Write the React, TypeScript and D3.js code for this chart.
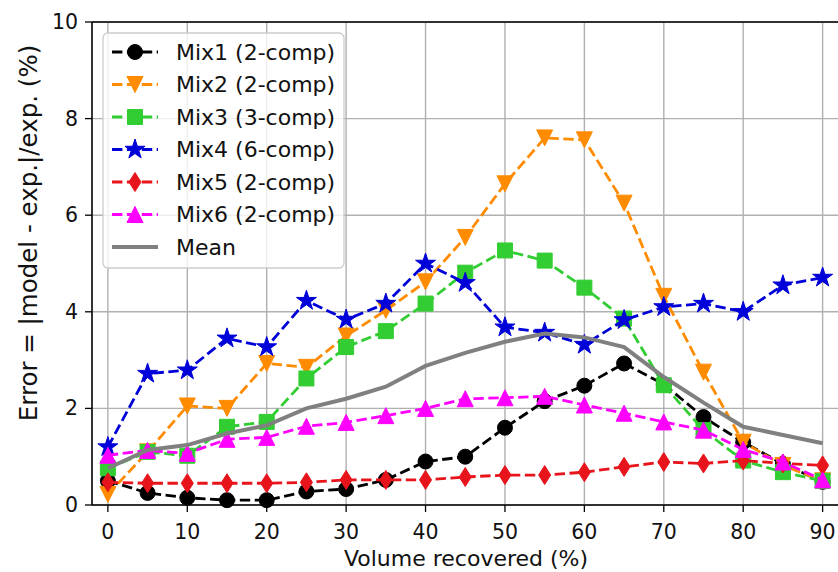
import * as d3 from "d3";

// volume recovered (%)
const volume = [0, 5, 10, 15, 20, 25, 30, 35, 40, 45, 50, 55, 60, 65, 70, 75, 80, 85, 90];

const mix1 = [0.5, 0.25, 0.15, 0.1, 0.1, 0.28, 0.33, 0.52, 0.9, 1.0, 1.6, 2.15, 2.47, 2.93, 2.5, 1.82, 1.3, 0.85, 0.48];
const mix2 = [0.22, 1.1, 2.05, 2.0, 2.93, 2.85, 3.5, 4.03, 4.62, 5.54, 6.65, 7.6, 7.56, 6.25, 4.32, 2.75, 1.3, 0.82, 0.5];
const mix3 = [0.76, 1.1, 1.02, 1.62, 1.72, 2.62, 3.27, 3.6, 4.17, 4.81, 5.27, 5.06, 4.5, 3.86, 2.48, 1.55, 0.92, 0.68, 0.5];
const mix4 = [1.2, 2.72, 2.79, 3.45, 3.27, 4.23, 3.84, 4.17, 5.0, 4.6, 3.68, 3.57, 3.32, 3.83, 4.1, 4.17, 4.0, 4.55, 4.71];
const mix5 = [0.47, 0.45, 0.45, 0.45, 0.45, 0.47, 0.52, 0.52, 0.52, 0.58, 0.62, 0.62, 0.68, 0.79, 0.89, 0.86, 0.92, 0.86, 0.82];
const mix6 = [1.03, 1.13, 1.07, 1.36, 1.4, 1.63, 1.71, 1.85, 2.0, 2.2, 2.22, 2.25, 2.07, 1.9, 1.72, 1.55, 1.15, 0.89, 0.52];
const mean = [0.76, 1.14, 1.24, 1.48, 1.65, 2.0, 2.2, 2.45, 2.88, 3.15, 3.38, 3.55, 3.47, 3.27, 2.65, 2.12, 1.62, 1.45, 1.28];

const xTicks = [0, 10, 20, 30, 40, 50, 60, 70, 80, 90];
const yTicks = [0, 2, 4, 6, 8, 10];

type Marker = "circle" | "triDown" | "square" | "star" | "diamond" | "triUp" | "none";

const series: { name: string; values: number[]; color: string; marker: Marker; dashed: boolean }[] = [
  { name: "Mix1 (2-comp)", values: mix1, color: "#000000", marker: "circle", dashed: true },
  { name: "Mix2 (2-comp)", values: mix2, color: "#ff8c00", marker: "triDown", dashed: true },
  { name: "Mix3 (3-comp)", values: mix3, color: "#32cd32", marker: "square", dashed: true },
  { name: "Mix4 (6-comp)", values: mix4, color: "#0000d8", marker: "star", dashed: true },
  { name: "Mix5 (2-comp)", values: mix5, color: "#e8141c", marker: "diamond", dashed: true },
  { name: "Mix6 (2-comp)", values: mix6, color: "#ff00ff", marker: "triUp", dashed: true },
  { name: "Mean", values: mean, color: "#808080", marker: "none", dashed: false },
];

const FONT = "DejaVu Sans, sans-serif";

function markerPath(kind: Marker): string {
  if (kind === "circle") return d3.symbol(d3.symbolCircle, Math.PI * 7.5 * 7.5)() as string;
  if (kind === "square") return "M-7.5,-7.5L7.5,-7.5L7.5,7.5L-7.5,7.5Z";
  if (kind === "triDown") return "M0,8L-8,-8L8,-8Z";
  if (kind === "triUp") return "M0,-8L-8,8L8,8Z";
  if (kind === "diamond") return "M0,-9.5L6,0L0,9.5L-6,0Z";
  if (kind === "star") {
    const pts: string[] = [];
    const R = 10.5;
    const r = R * 0.381966;
    for (let i = 0; i < 10; i++) {
      const rad = i % 2 === 0 ? R : r;
      const a = -Math.PI / 2 + (i * Math.PI) / 5;
      pts.push(`${(rad * Math.cos(a)).toFixed(2)},${(rad * Math.sin(a)).toFixed(2)}`);
    }
    return "M" + pts.join("L") + "Z";
  }
  return "";
}

export default function App() {
  const width = 838;
  const height = 572;

  const x = d3.scaleLinear().domain([-2, 92]).range([92, 838.5]);
  const y = d3.scaleLinear().domain([0, 10]).range([505, 22]);

  const line = d3
    .line<number>()
    .x((_, i) => x(volume[i]))
    .y((d) => y(d));

  // legend placement
  const legX = 103;
  const legY = 33;
  const rowH = 32.5;

  return (
    <svg width={width} height={height} style={{ position: "absolute", left: 0, top: 0, background: "#fff" }}>
      <rect x={0} y={0} width={width} height={height} fill="#fff" />

      {/* grid */}
      <g stroke="#b0b0b0" strokeWidth={1.4}>
        {xTicks.map((t) => (
          <line key={"gx" + t} x1={x(t)} x2={x(t)} y1={y(10)} y2={y(0)} />
        ))}
        {yTicks.map((t) => (
          <line key={"gy" + t} x1={92} x2={838} y1={y(t)} y2={y(t)} />
        ))}
      </g>

      {/* series */}
      {series.map((s) => (
        <g key={s.name}>
          <path
            d={line(s.values) as string}
            fill="none"
            stroke={s.color}
            strokeWidth={s.dashed ? 2.8 : 4}
            strokeDasharray={s.dashed ? "10.4,4.5" : undefined}
          />
          {s.marker !== "none" &&
            s.values.map((v, i) => (
              <path
                key={i}
                d={markerPath(s.marker)}
                transform={`translate(${x(volume[i])},${y(v)})`}
                fill={s.color}
                stroke={s.color}
                strokeWidth={1}
              />
            ))}
        </g>
      ))}

      {/* axes spines */}
      <g stroke="#000" strokeWidth={1.6} fill="none">
        <line x1={92} x2={92} y1={y(10)} y2={y(0)} />
        <line x1={92} x2={840} y1={y(0)} y2={y(0)} />
        <line x1={92} x2={840} y1={y(10)} y2={y(10)} />
      </g>

      {/* ticks */}
      <g stroke="#000" strokeWidth={1.3}>
        {xTicks.map((t) => (
          <line key={"tx" + t} x1={x(t)} x2={x(t)} y1={y(0)} y2={y(0) + 7} />
        ))}
        {yTicks.map((t) => (
          <line key={"ty" + t} x1={85} x2={92} y1={y(t)} y2={y(t)} />
        ))}
      </g>
      <g fontFamily={FONT} fontSize={20.5} fill="#111">
        {xTicks.map((t) => (
          <text key={"lx" + t} x={x(t)} y={532} textAnchor="middle" dominantBaseline="central">
            {t}
          </text>
        ))}
        {yTicks.map((t) => (
          <text key={"ly" + t} x={78} y={y(t)} textAnchor="end" dominantBaseline="central">
            {t}
          </text>
        ))}
      </g>

      {/* axis labels */}
      <text x={466} y={558} textAnchor="middle" dominantBaseline="central" fontFamily={FONT} fontSize={22} fill="#111">
        Volume recovered (%)
      </text>
      <text
        transform={`translate(28,233) rotate(-90)`}
        textAnchor="middle"
        dominantBaseline="central"
        fontFamily={FONT}
        fontSize={24.5}
        fill="#111"
      >
        Error = |model - exp.|/exp. (%)
      </text>

      {/* legend */}
      <g>
        <rect
          x={legX}
          y={legY}
          width={241}
          height={235}
          rx={5}
          fill="#fff"
          fillOpacity={0.8}
          stroke="#cccccc"
          strokeWidth={1.3}
        />
        {series.map((s, i) => {
          const cy = legY + 19 + i * rowH;
          return (
            <g key={"leg" + s.name}>
              <line
                x1={112}
                x2={158}
                y1={cy}
                y2={cy}
                stroke={s.color}
                strokeWidth={s.dashed ? 2.8 : 4}
                strokeDasharray={s.dashed ? "10.4,4.5" : undefined}
              />
              {s.marker !== "none" && (
                <path
                  d={markerPath(s.marker)}
                  transform={`translate(135,${cy})`}
                  fill={s.color}
                  stroke={s.color}
                  strokeWidth={1}
                />
              )}
              <text x={176} y={cy} dominantBaseline="central" fontFamily={FONT} fontSize={22} fill="#111">
                {s.name}
              </text>
            </g>
          );
        })}
      </g>
    </svg>
  );
}
